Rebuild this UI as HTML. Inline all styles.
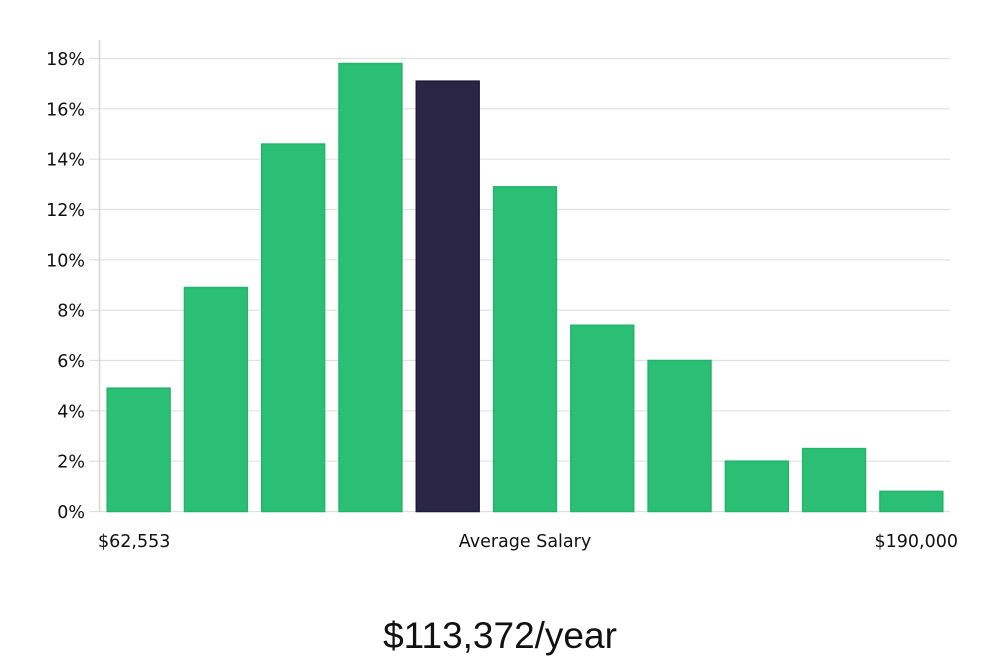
<!DOCTYPE html>
<html><head><meta charset="utf-8"><style>
html,body{margin:0;padding:0;background:#fff;}
svg{display:block;font-family:"DejaVu Sans","Liberation Sans",sans-serif;}
</style></head><body>
<svg id="chart" width="1000" height="660" viewBox="0 0 1000 660" xmlns="http://www.w3.org/2000/svg">
<g id="grid"></g>
<g id="yticks"></g>
<line x1="99.5" y1="40" x2="99.5" y2="512" stroke="#d6d6d6" stroke-width="1.5"/>
<g id="bars"></g>
<text x="98" y="547" font-size="17.5" fill="#111">$62,553</text>
<text x="525" y="547" font-size="17.5" fill="#111" text-anchor="middle">Average Salary</text>
<text x="958" y="547" font-size="17.5" fill="#111" text-anchor="end">$190,000</text>
<text x="500" y="648" font-size="37" fill="#111" text-anchor="middle" font-family="Liberation Sans, sans-serif" style="font-weight:300">$113,372/year</text>
</svg>
<script>
const categories = ["b1","b2","b3","b4","b5","b6","b7","b8","b9","b10","b11"];
const values = [4.9, 8.9, 14.6, 17.8, 17.1, 12.9, 7.4, 6.0, 2.0, 2.5, 0.8];
const highlightIndex = 4;
const yTicks = [0,2,4,6,8,10,12,14,16,18];
const yTickLabels = ["0%","2%","4%","6%","8%","10%","12%","14%","16%","18%"];

const NS = "http://www.w3.org/2000/svg";
const y0 = 511.5, yMaxPx = 58.5, yMax = 18;
const xL = 100, xR = 950;
function yScale(v){ return y0 - (v / yMax) * (y0 - yMaxPx); }
const band = (xR - xL) / categories.length;
function xScale(i){ return xL + i * band; }

const grid = document.getElementById('grid');
const yt = document.getElementById('yticks');
yTicks.forEach((t, i) => {
  const y = yScale(t);
  const l = document.createElementNS(NS, 'line');
  
  
  l.setAttribute('x1', 89); l.setAttribute('x2', xR);
  l.setAttribute('y1', y); l.setAttribute('y2', y);
  l.setAttribute('stroke', '#e0e0e0'); l.setAttribute('stroke-width', '1.2');
  grid.appendChild(l);
  const tx = document.createElementNS(NS, 'text');
  
  
  tx.setAttribute('x', 85); tx.setAttribute('y', y + 6.5);
  tx.setAttribute('text-anchor', 'end');
  tx.setAttribute('font-size', '17.5');
  tx.setAttribute('fill', '#111');
  tx.textContent = yTickLabels[i];
  yt.appendChild(tx);
});

const bars = document.getElementById('bars');
const pad = 7.2;
values.forEach((v, i) => {
  const r = document.createElementNS(NS, 'rect');
  
  
  const x = xScale(i) + pad, w = band - 2 * pad;
  const y = yScale(v);
  r.setAttribute('x', x); r.setAttribute('width', w);
  r.setAttribute('y', y); r.setAttribute('height', y0 - y);
  const hi = i === highlightIndex;
  r.setAttribute('fill', hi ? '#2a2545' : '#2bbf76');
  r.setAttribute('stroke', hi ? '#1c1a3a' : '#22b56b');
  r.setAttribute('stroke-width', '1.5');
  bars.appendChild(r);
});
</script>
</body></html>
